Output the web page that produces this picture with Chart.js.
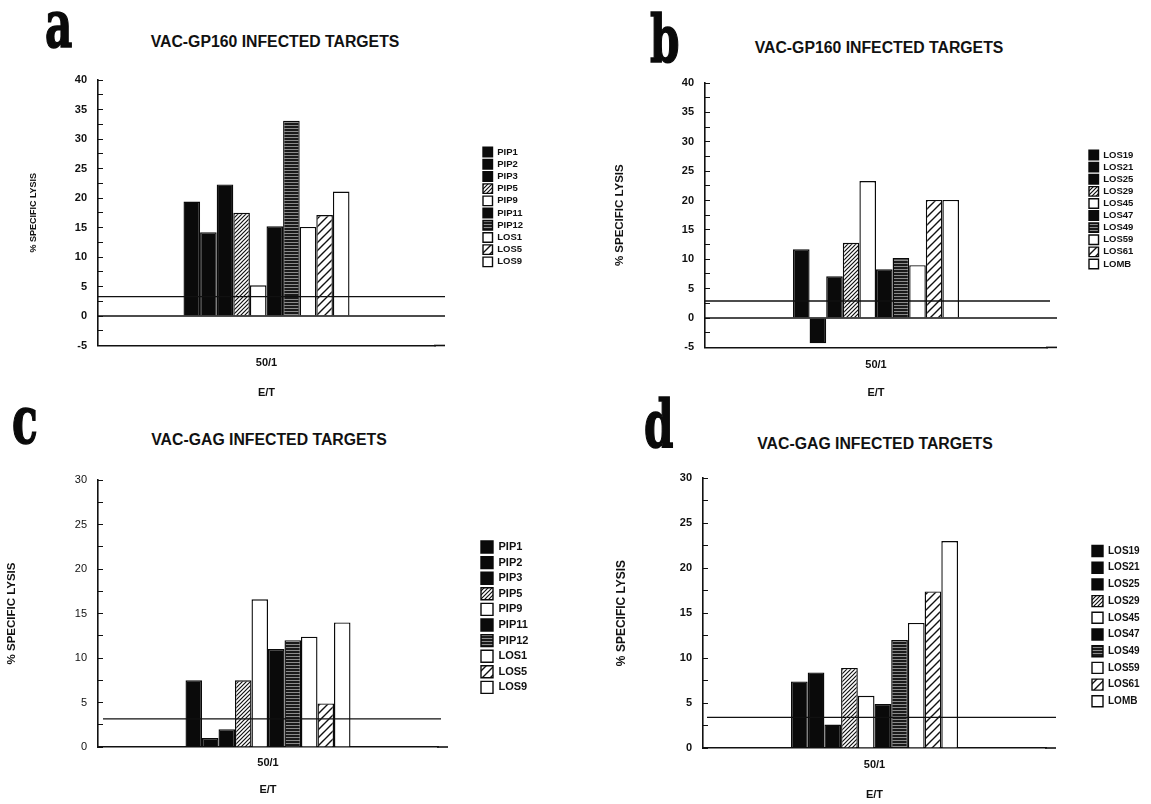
<!DOCTYPE html>
<html><head><meta charset="utf-8">
<script src="https://cdn.jsdelivr.net/npm/chart.js@4/dist/chart.umd.min.js"></script>
<style>
html,body{margin:0;padding:0;background:#fff;}
body{width:1151px;height:804px;position:relative;overflow:hidden;font-family:"Liberation Sans",Arial,sans-serif;}
canvas{position:absolute;left:0;top:0;}
.lt{position:absolute;font-family:"DejaVu Serif",serif;font-weight:bold;font-size:66px;line-height:1;transform:scaleX(0.64);transform-origin:0 0;color:#0a0a0a;-webkit-text-stroke:1.6px #0a0a0a;}
.tt{position:absolute;font-weight:bold;font-size:15.8px;line-height:1;white-space:nowrap;transform:translateX(-50%);color:#111;}
</style></head><body>
<div class="lt" style="left:45px;top:-9px">a</div>
<div class="lt" style="left:650px;top:6px">b</div>
<div class="lt" style="left:12px;top:387px">c</div>
<div class="lt" style="left:644px;top:391px">d</div>
<div class="tt" style="left:275px;top:33.6px">VAC-GP160 INFECTED TARGETS</div>
<div class="tt" style="left:879px;top:39.6px">VAC-GP160 INFECTED TARGETS</div>
<div class="tt" style="left:269px;top:431.6px">VAC-GAG INFECTED TARGETS</div>
<div class="tt" style="left:875px;top:435.6px">VAC-GAG INFECTED TARGETS</div>
<canvas id="ca" width="1151" height="804"></canvas>
<canvas id="cb" width="1151" height="804"></canvas>
<canvas id="cc" width="1151" height="804"></canvas>
<canvas id="cd" width="1151" height="804"></canvas>
<script>
// ---------- data ----------
const categories = ['50/1'];
const pipSeries = ['PIP1','PIP2','PIP3','PIP5','PIP9','PIP11','PIP12','LOS1','LOS5','LOS9'];
const losSeries = ['LOS19','LOS21','LOS25','LOS29','LOS45','LOS47','LOS49','LOS59','LOS61','LOMB'];
const gp160PipValues = [19.4, 14.2, 22.3, 17.5, 5.2, 15.2, 33.1, 15.1, 17.1, 21.1];
const gp160LosValues = [11.7, -4.3, 7.1, 12.8, 23.3, 8.3, 10.2, 9.0, 20.1, 20.1];
const gagPipValues = [7.5, 1.0, 2.0, 7.5, 16.6, 11.0, 12.0, 12.4, 4.9, 14.0];
const gagLosValues = [7.4, 8.4, 2.6, 8.9, 5.8, 4.9, 12.0, 13.9, 17.4, 23.0];
const gp160PipCutoff = 3.3;
const gp160LosCutoff = 2.9;
const gagPipCutoff = 3.15;
const gagLosCutoff = 3.4;
const yTitle = '% SPECIFIC LYSIS';
const xTitle = 'E/T';

// ---------- styles ----------
function makePattern(size, draw) {
  const c = document.createElement('canvas');
  c.width = size[0]; c.height = size[1];
  const g = c.getContext('2d');
  draw(g, size[0], size[1]);
  return g.createPattern(c, 'repeat');
}
const fills = {
  solid: '#0a0a0a',
  open: '#ffffff',
  dense: makePattern([4,4], (g,w,h) => {
    g.fillStyle = '#fff'; g.fillRect(0,0,w,h);
    g.strokeStyle = '#111'; g.lineWidth = 1.2;
    g.beginPath();
    g.moveTo(-1,5); g.lineTo(5,-1);
    g.moveTo(-1,1); g.lineTo(1,-1);
    g.moveTo(3,5); g.lineTo(5,3);
    g.stroke();
  }),
  sparse: makePattern([8,8], (g,w,h) => {
    g.fillStyle = '#fff'; g.fillRect(0,0,w,h);
    g.strokeStyle = '#111'; g.lineWidth = 1.4;
    g.beginPath();
    g.moveTo(-1,9); g.lineTo(9,-1);
    g.moveTo(-1,1); g.lineTo(1,-1);
    g.moveTo(7,9); g.lineTo(9,7);
    g.stroke();
  }),
  stripe: makePattern([6,3], (g,w,h) => {
    g.fillStyle = '#1a1a1a'; g.fillRect(0,0,w,h);
    g.fillStyle = '#8c8c8c'; g.fillRect(0,2,w,1);
  })
};
const fillKinds = ['solid','solid','solid','dense','open','solid','stripe','open','sparse','open'];

Chart.defaults.font.family = "'Liberation Sans', Arial, sans-serif";
Chart.defaults.color = '#111';

// ---------- plugins ----------
const legendPlace = {
  id: 'legendPlace',
  afterLayout(chart, args, opts) {
    const lg = chart.legend; if (!lg) return;
    const pad = lg.options.labels.padding;
    const w = lg.width + 30, h = lg.height + 30;
    lg.left = opts.x - pad; lg.top = opts.y - pad;
    lg.right = lg.left + w; lg.bottom = lg.top + h;
    lg.width = w; lg.height = h;
  }
};
const refLines = {
  id: 'refLines',
  afterDatasetsDraw(chart, args, opts) {
    const {ctx, chartArea, scales: {y}} = chart;
    ctx.save();
    ctx.strokeStyle = '#111';
    (opts.lines || []).forEach(l => {
      const py = y.getPixelForValue(l.value);
      ctx.lineWidth = l.width || 1.3;
      ctx.beginPath();
      ctx.moveTo(chartArea.left + (l.start || 0), py);
      ctx.lineTo(chartArea.right + (l.ext || 0), py);
      ctx.stroke();
    });
    if (opts.axisExtend) {
      ctx.lineWidth = 1.6;
      ctx.beginPath();
      ctx.moveTo(chartArea.right - 1, chartArea.bottom);
      ctx.lineTo(chartArea.right + opts.axisExtend, chartArea.bottom);
      ctx.stroke();
    }
    ctx.restore();
  }
};

// ---------- panels ----------
function panelChart(id, p) {
  return new Chart(document.getElementById(id), {
    type: 'bar',
    data: {
      labels: categories,
      datasets: p.series.map((name, i) => ({
        label: name,
        data: [p.values[i]],
        backgroundColor: fills[fillKinds[i]],
        borderColor: '#0a0a0a',
        borderWidth: 1.4
      }))
    },
    options: {
      responsive: false,
      animation: false,
      events: [],
      layout: { padding: p.pad },
      datasets: { bar: { categoryPercentage: p.catPct, barPercentage: 1 } },
      scales: {
        x: {
          grid: { display: false, drawTicks: false },
          border: { display: true, color: '#111', width: 1.6 },
          ticks: { padding: p.xTickPad, font: { size: 11, weight: 'bold' }, color: '#111' },
          title: { display: true, text: xTitle, padding: { top: 0, bottom: p.xTitlePad }, font: { size: 11, weight: 'bold' }, color: '#111' },
          afterFit: s => { s.height = p.xHeight; }
        },
        y: {
          min: p.yMin, max: p.yMax,
          grid: { drawOnChartArea: false, drawTicks: true, tickLength: -5, color: '#111', lineWidth: 1 },
          border: { display: true, color: '#111', width: 1.6 },
          ticks: {
            stepSize: 2.5, autoSkip: false, padding: 16,
            font: { size: 11, weight: p.tickWeight }, color: '#111',
            callback: v => (v % 5 === 0 ? String(v) : '')
          },
          title: { display: true, text: yTitle, padding: { top: p.yTitlePad, bottom: 0 }, font: { size: p.yTitleSize, weight: 'bold' }, color: '#111' },
          afterFit: s => { s.width = p.yWidth; }
        }
      },
      plugins: {
        legend: {
          position: 'chartArea', align: 'start',
          labels: {
            boxWidth: p.legend.box, boxHeight: p.legend.box, padding: p.legend.pad,
            font: { size: p.legend.font, weight: 'bold' }, color: '#111'
          }
        },
        tooltip: { enabled: false },
        legendPlace: { x: p.legend.x, y: p.legend.y },
        refLines: { lines: p.lines, axisExtend: p.axisExtend }
      }
    },
    plugins: [legendPlace, refLines]
  });
}

panelChart('ca', {
  series: pipSeries, values: gp160PipValues, yMin: -5, yMax: 40,
  pad: { left: 10, top: 80, right: 716, bottom: 399 },
  yWidth: 88, yTitlePad: 18.4, yTitleSize: 9, xHeight: 59.5, xTickPad: 11, xTitlePad: 5.4,
  tickWeight: 'bold', catPct: 0.4926,
  legend: { x: 483, y: 147.3, box: 9.5, pad: 2.7, font: 9.5 },
  lines: [{ value: 0, ext: 10 }, { value: gp160PipCutoff, ext: 10 }], axisExtend: 10
});
panelChart('cb', {
  series: losSeries, values: gp160LosValues, yMin: -5, yMax: 40,
  pad: { left: 600, top: 83, right: 104, bottom: 399 },
  yWidth: 105, yTitlePad: 13.4, yTitleSize: 11.5, xHeight: 57.6, xTickPad: 11, xTitlePad: 5.4,
  tickWeight: 'bold', catPct: 0.4854,
  legend: { x: 1089, y: 150.3, box: 9.5, pad: 2.6, font: 9.5 },
  lines: [{ value: 0, ext: 10 }, { value: gp160LosCutoff, ext: 3 }], axisExtend: 10
});
panelChart('cc', {
  series: pipSeries, values: gagPipValues, yMin: 0, yMax: 30,
  pad: { left: 0, top: 480, right: 713, bottom: 6 },
  yWidth: 98, yTitlePad: 5.4, yTitleSize: 11.5, xHeight: 51, xTickPad: 9.5, xTitlePad: 1.4,
  tickWeight: 'normal', catPct: 0.4853,
  legend: { x: 481, y: 541, box: 12, pad: 3.6, font: 11 },
  lines: [{ value: gagPipCutoff, start: 5, ext: 3 }], axisExtend: 10
});
panelChart('cd', {
  series: losSeries, values: gagLosValues, yMin: 0, yMax: 30,
  pad: { left: 600, top: 478, right: 105, bottom: 2 },
  yWidth: 103, yTitlePad: 14.4, yTitleSize: 12, xHeight: 54, xTickPad: 10.5, xTitlePad: 0,
  tickWeight: 'bold', catPct: 0.487,
  legend: { x: 1092, y: 545.5, box: 11, pad: 5.7, font: 10 },
  lines: [{ value: gagLosCutoff, start: 4, ext: 10 }], axisExtend: 10
});
</script>
</body></html>
